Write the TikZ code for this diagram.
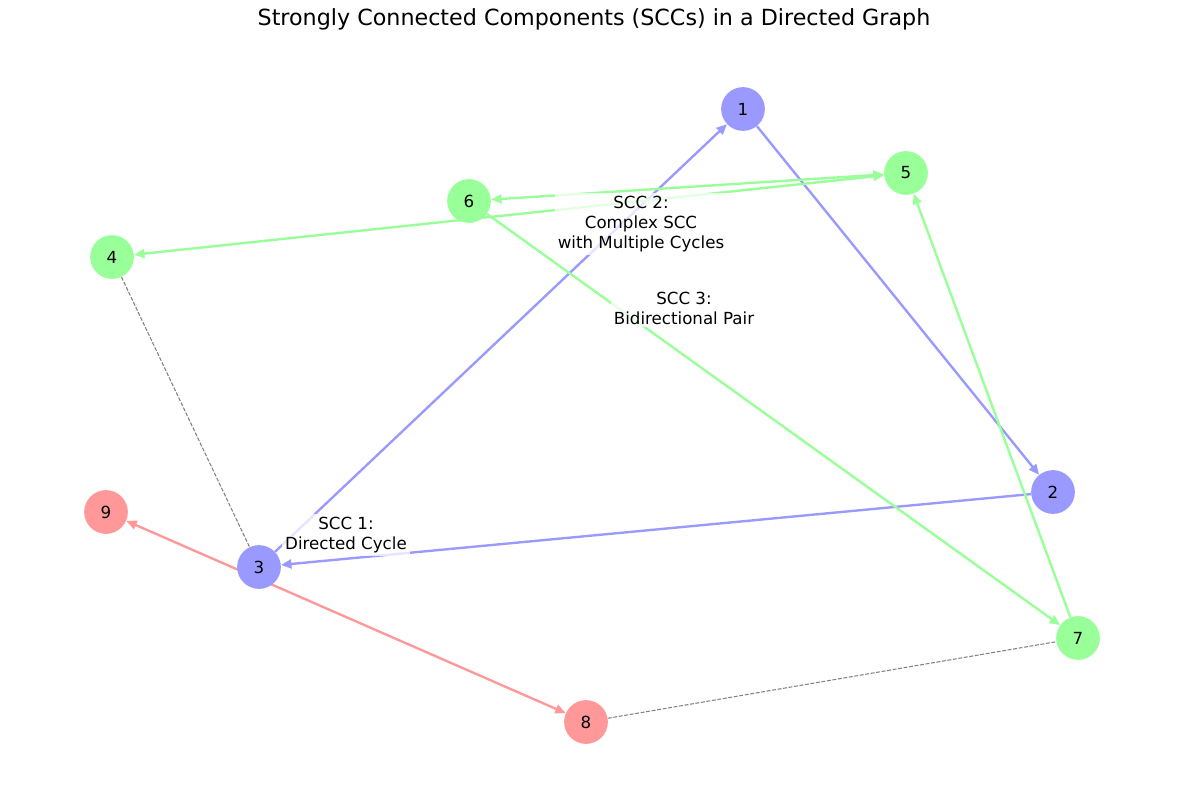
\documentclass[tikz,border=0pt]{standalone}
\usepackage{fontspec}
\setmainfont{DejaVu Sans}
\usetikzlibrary{arrows.meta}
\pgfdeclarelayer{bg}
\pgfsetlayers{bg,main}
\definecolor{cblue}{HTML}{9999FF}
\definecolor{cgreen}{HTML}{99FF99}
\definecolor{cred}{HTML}{FF9999}
\tikzset{
  vtx/.style={circle, minimum size=31.5pt, inner sep=0pt, font=\fontsize{12}{14}\selectfont},
  bluev/.style={vtx, fill=cblue},
  greenv/.style={vtx, fill=cgreen},
  redv/.style={vtx, fill=cred},
  arr/.style={line width=1.7pt, -{Triangle[length=7.5pt,width=6.5pt]}},
  barr/.style={arr, <->, >={Triangle[length=7.5pt,width=6.5pt]}},
  dep/.style={gray, line width=0.75pt, dash pattern=on 2.8pt off 1.2pt},
  scclabel/.style={align=center, fill=white, fill opacity=0.75, text opacity=1, inner sep=2pt, font=\fontsize{12}{14.5}\selectfont}
}
\begin{document}
\begin{tikzpicture}[x=0.72pt, y=-0.72pt]
\path[use as bounding box] (0,0) rectangle (1189,788);
\node[font=\fontsize{16}{19}\selectfont] (title) at (594,19) {Strongly Connected Components (SCCs) in a Directed Graph};
\node[bluev] (n1) at (743,109) {1};
\node[bluev] (n2) at (1053,492) {2};
\node[bluev] (n3) at (259,567) {3};
\node[greenv] (n4) at (112,257) {4};
\node[greenv] (n5) at (906,173) {5};
\node[greenv] (n6) at (469,201) {6};
\node[greenv] (n7) at (1078,638) {7};
\node[redv] (n8) at (586,722) {8};
\node[redv] (n9) at (106,512) {9};
\begin{pgfonlayer}{bg}
\fill[white] (0,0) rectangle (1189,788);
\draw[arr, cblue] (n1) -- (n2);
\draw[arr, cblue] (n2) -- (n3);
\draw[arr, cblue] (n3) -- (n1);
\draw[barr, cgreen] (n4) -- (n5);
\draw[barr, cgreen] (n5) -- (n6);
\draw[arr, cgreen] (n6) -- (n7);
\draw[arr, cgreen] (n7) -- (n5);
\draw[barr, cred] (n9) -- (n8);
\draw[dep] (n4) -- (n3);
\draw[dep] (n8) -- (n7);
\end{pgfonlayer}
\node[scclabel] (l1) at (346,535) {SCC 1:\\Directed Cycle};
\node[scclabel] (l2) at (641,224) {SCC 2:\\Complex SCC\\with Multiple Cycles};
\node[scclabel] (l3) at (684,308) {SCC 3:\\Bidirectional Pair};
\end{tikzpicture}
\end{document}
